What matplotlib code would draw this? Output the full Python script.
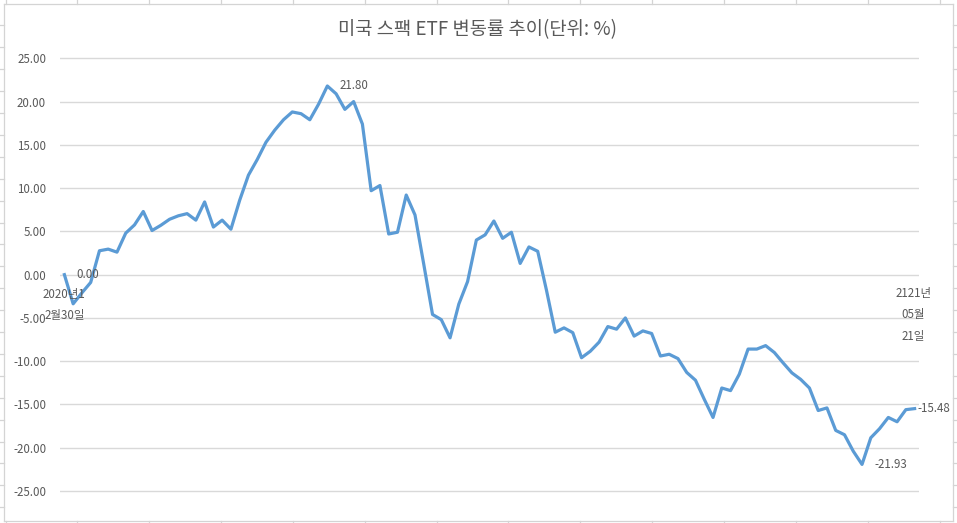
import numpy as np
import matplotlib
matplotlib.use("Agg")
import matplotlib.pyplot as plt
from matplotlib.lines import Line2D

plt.rcParams['font.family'] = ['Noto Sans CJK KR', 'DejaVu Sans']

# data
TITLE = "미국 스팩 ETF 변동률 추이(단위: %)"
CHANGE = [0.00, -3.37, -2.1, -0.9, 2.76, 2.95, 2.6, 4.8, 5.75, 7.3,
          5.1, 5.7, 6.4, 6.8, 7.05, 6.3, 8.4, 5.5, 6.3, 5.25,
          8.6, 11.5, 13.3, 15.3, 16.7, 17.9, 18.8, 18.6, 17.9, 19.7,
          21.80, 20.9, 19.1, 20.0, 17.4, 9.7, 10.3, 4.7, 4.9, 9.2,
          6.9, 1.2, -4.6, -5.2, -7.3, -3.4, -0.8, 4.0, 4.6, 6.2,
          4.2, 4.9, 1.3, 3.2, 2.7, -1.8, -6.65, -6.15, -6.7, -9.6,
          -8.85, -7.8, -6.0, -6.3, -5.0, -7.1, -6.5, -6.8, -9.4, -9.2,
          -9.7, -11.3, -12.2, -14.4, -16.5, -13.1, -13.4, -11.5, -8.6, -8.6,
          -8.2, -9.0, -10.2, -11.35, -12.1, -13.1, -15.7, -15.4, -18.0, -18.5,
          -20.4, -21.93, -18.85, -17.8, -16.5, -17.0, -15.6, -15.48]
LABELED = [0, 30, 91, 97]          # points carrying a value label
START_DATE = ["2020년1", "2월30일"]
END_DATE = ["2121년", "05월", "21일"]
YTICKS = [25, 20, 15, 10, 5, 0, -5, -10, -15, -20, -25]

W, H = 957, 523
INK = "#595959"; GRID = "#D9D9D9"; LINE = "#5B9BD5"; SHEET = "#D4D4D4"

fig = plt.figure(figsize=(W/100, H/100), dpi=100)
fig.patch.set_facecolor("white")

def fx(px): return px / W
def fy(py): return 1 - py / H

# excel sheet grid peeking around the chart box
def seg(x0, y0, x1, y1, c=SHEET, lw=0.9):
    fig.add_artist(Line2D([fx(x0), fx(x1)], [fy(y0), fy(y1)], color=c, lw=lw))
seg(3.5, 3.5, 952.5, 3.5); seg(3.5, 521, 952.5, 521)
seg(3.5, 3.5, 3.5, 521); seg(952.5, 3.5, 952.5, 521)
for cx in np.arange(5.5, 957, 71.85):
    seg(cx, 0, cx, 3.5); seg(cx, 521, cx, 523)
for ry in np.arange(25.4, 521, 21.9):
    seg(0, ry, 3.5, ry); seg(952.5, ry, 957, ry)

# plot area (a little padding so the outer gridlines are not clipped)
PAD = 0.5
ppu = (491 - 58.3) / 50.0
ax = fig.add_axes([fx(60), fy(491 + PAD * ppu), fx(919) - fx(60),
                   fy(58.3 - PAD * ppu) - fy(491 + PAD * ppu)])
x = np.arange(len(CHANGE))
ax.plot(x, CHANGE, color=LINE, lw=2.3, solid_joinstyle="round", zorder=3, clip_on=False)
ax.set_xlim(-0.5, len(CHANGE) - 0.5)
ax.set_ylim(-25 - PAD, 25 + PAD)
ax.set_yticks(YTICKS)
ax.set_yticklabels([f"{v:.2f}" for v in YTICKS])
ax.set_xticks([])
ax.tick_params(axis="y", length=0, pad=10, labelsize=8.3, labelcolor=INK)
ax.grid(axis="y", color=GRID, lw=1.0)
ax.set_axisbelow(True)
for s in ax.spines.values(): s.set_visible(False)
ax.set_facecolor("none")

# value labels
for i in LABELED:
    dx = 3 if i == len(CHANGE) - 1 else 12
    ax.annotate(f"{CHANGE[i]:.2f}", (x[i], CHANGE[i]), xytext=(dx, 0),
                textcoords="offset pixels", ha="left", va="center",
                fontsize=8.3, color=INK, zorder=5)

# category (date) labels at first and last point
for k, t in enumerate(START_DATE):
    ax.annotate(t, (x[0], CHANGE[0]), xytext=(0, -19.5 - 21 * k),
                textcoords="offset pixels", ha="center", va="center",
                fontsize=8.3, color=INK, zorder=5)
for k, t in enumerate(END_DATE):
    ax.annotate(t, (x[-1], CHANGE[-1]), xytext=(-1.5, 115.5 - 21.5 * k),
                textcoords="offset pixels", ha="center", va="center",
                fontsize=8.3, color=INK, zorder=5)

fig.text(fx(478), fy(30), TITLE, ha="center", va="center", fontsize=13.5, color=INK)

fig.savefig("out.png", dpi=100, facecolor="white")
